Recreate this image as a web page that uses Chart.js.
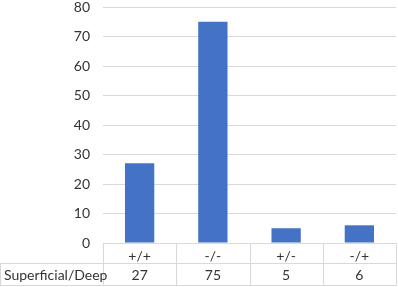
<!DOCTYPE html>
<html lang="en">
<head>
    <meta charset="UTF-8">
    <title>Superficial/Deep</title>
    <script src="https://cdn.jsdelivr.net/npm/chart.js"></script>
    <style>
        html, body {
            margin: 0;
            padding: 0;
            background: #ffffff;
        }
        .chart-container {
            position: relative;
            width: 398px;
            height: 287px;
        }
    </style>
</head>
<body>
    <div class="chart-container">
        <canvas id="barChart"></canvas>
    </div>

    <script>
        // Data
        const categories = ['+/+', '-/-', '+/-', '-/+'];
        const seriesName = 'Superficial/Deep';
        const seriesValues = [27, 75, 5, 6];
        const yTicks = [0, 10, 20, 30, 40, 50, 60, 70, 80];

        const textColor = '#333333';
        const lineColor = '#d9d9d9';
        const fontFamily = 'Lato, "Open Sans", sans-serif';

        // Draws the data table under the x axis
        const dataTablePlugin = {
            id: 'dataTable',
            afterDraw(chart) {
                const ctx = chart.ctx;
                const x = chart.scales.x;
                const area = chart.chartArea;
                const top = Math.round(area.bottom) + 0.5;
                const mid = top + 20;
                const bottom = chart.height - 1.5;
                const step = x.getPixelForValue(1) - x.getPixelForValue(0);
                const edges = [];
                for (let i = 0; i <= categories.length; i++) {
                    edges.push(Math.round(x.getPixelForValue(i) - step / 2) + 0.5);
                }

                ctx.save();
                ctx.strokeStyle = lineColor;
                ctx.lineWidth = 1;
                ctx.beginPath();
                ctx.moveTo(edges[0], top);
                ctx.lineTo(edges[edges.length - 1], top);
                ctx.moveTo(0, mid);
                ctx.lineTo(edges[edges.length - 1], mid);
                ctx.moveTo(0, bottom);
                ctx.lineTo(edges[edges.length - 1], bottom);
                edges.forEach(e => {
                    ctx.moveTo(e, top);
                    ctx.lineTo(e, bottom);
                });
                ctx.moveTo(0.5, mid);
                ctx.lineTo(0.5, bottom);
                ctx.stroke();

                ctx.fillStyle = textColor;
                ctx.font = '14px ' + fontFamily;
                ctx.textBaseline = 'middle';
                const rowY = (mid + bottom) / 2 + 1;
                ctx.textAlign = 'left';
                ctx.fillText(seriesName, 4, rowY);
                ctx.textAlign = 'center';
                seriesValues.forEach((v, i) => {
                    ctx.fillText(String(v), x.getPixelForValue(i), rowY);
                });
                ctx.restore();
            }
        };

        const ctx = document.getElementById('barChart').getContext('2d');
        new Chart(ctx, {
            type: 'bar',
            data: {
                labels: categories,
                datasets: [{
                    label: seriesName,
                    data: seriesValues,
                    backgroundColor: '#4472c4',
                    barPercentage: 0.8,
                    categoryPercentage: 0.5
                }]
            },
            options: {
                responsive: true,
                maintainAspectRatio: false,
                animation: false,
                layout: {
                    padding: { top: 7, right: 2, left: 0, bottom: 0 }
                },
                plugins: {
                    legend: { display: false },
                    tooltip: { enabled: false }
                },
                scales: {
                    x: {
                        grid: { display: false, drawTicks: false },
                        border: { display: false },
                        ticks: {
                            color: textColor,
                            font: { family: fontFamily, size: 14 },
                            padding: 5
                        },
                        afterFit(scale) {
                            scale.height = 44;
                            scale.paddingLeft = 0;
                            scale.paddingRight = 0;
                        }
                    },
                    y: {
                        min: 0,
                        max: 80,
                        afterBuildTicks(scale) {
                            scale.ticks = yTicks.map(v => ({ value: v }));
                        },
                        grid: {
                            color: lineColor,
                            drawTicks: false
                        },
                        border: { display: false },
                        ticks: {
                            color: textColor,
                            font: { family: fontFamily, size: 14 },
                            padding: 13
                        },
                        afterFit(scale) {
                            scale.width = 103;
                            scale.paddingTop = 0;
                            scale.paddingBottom = 0;
                        }
                    }
                }
            },
            plugins: [dataTablePlugin]
        });
    </script>
</body>
</html>
